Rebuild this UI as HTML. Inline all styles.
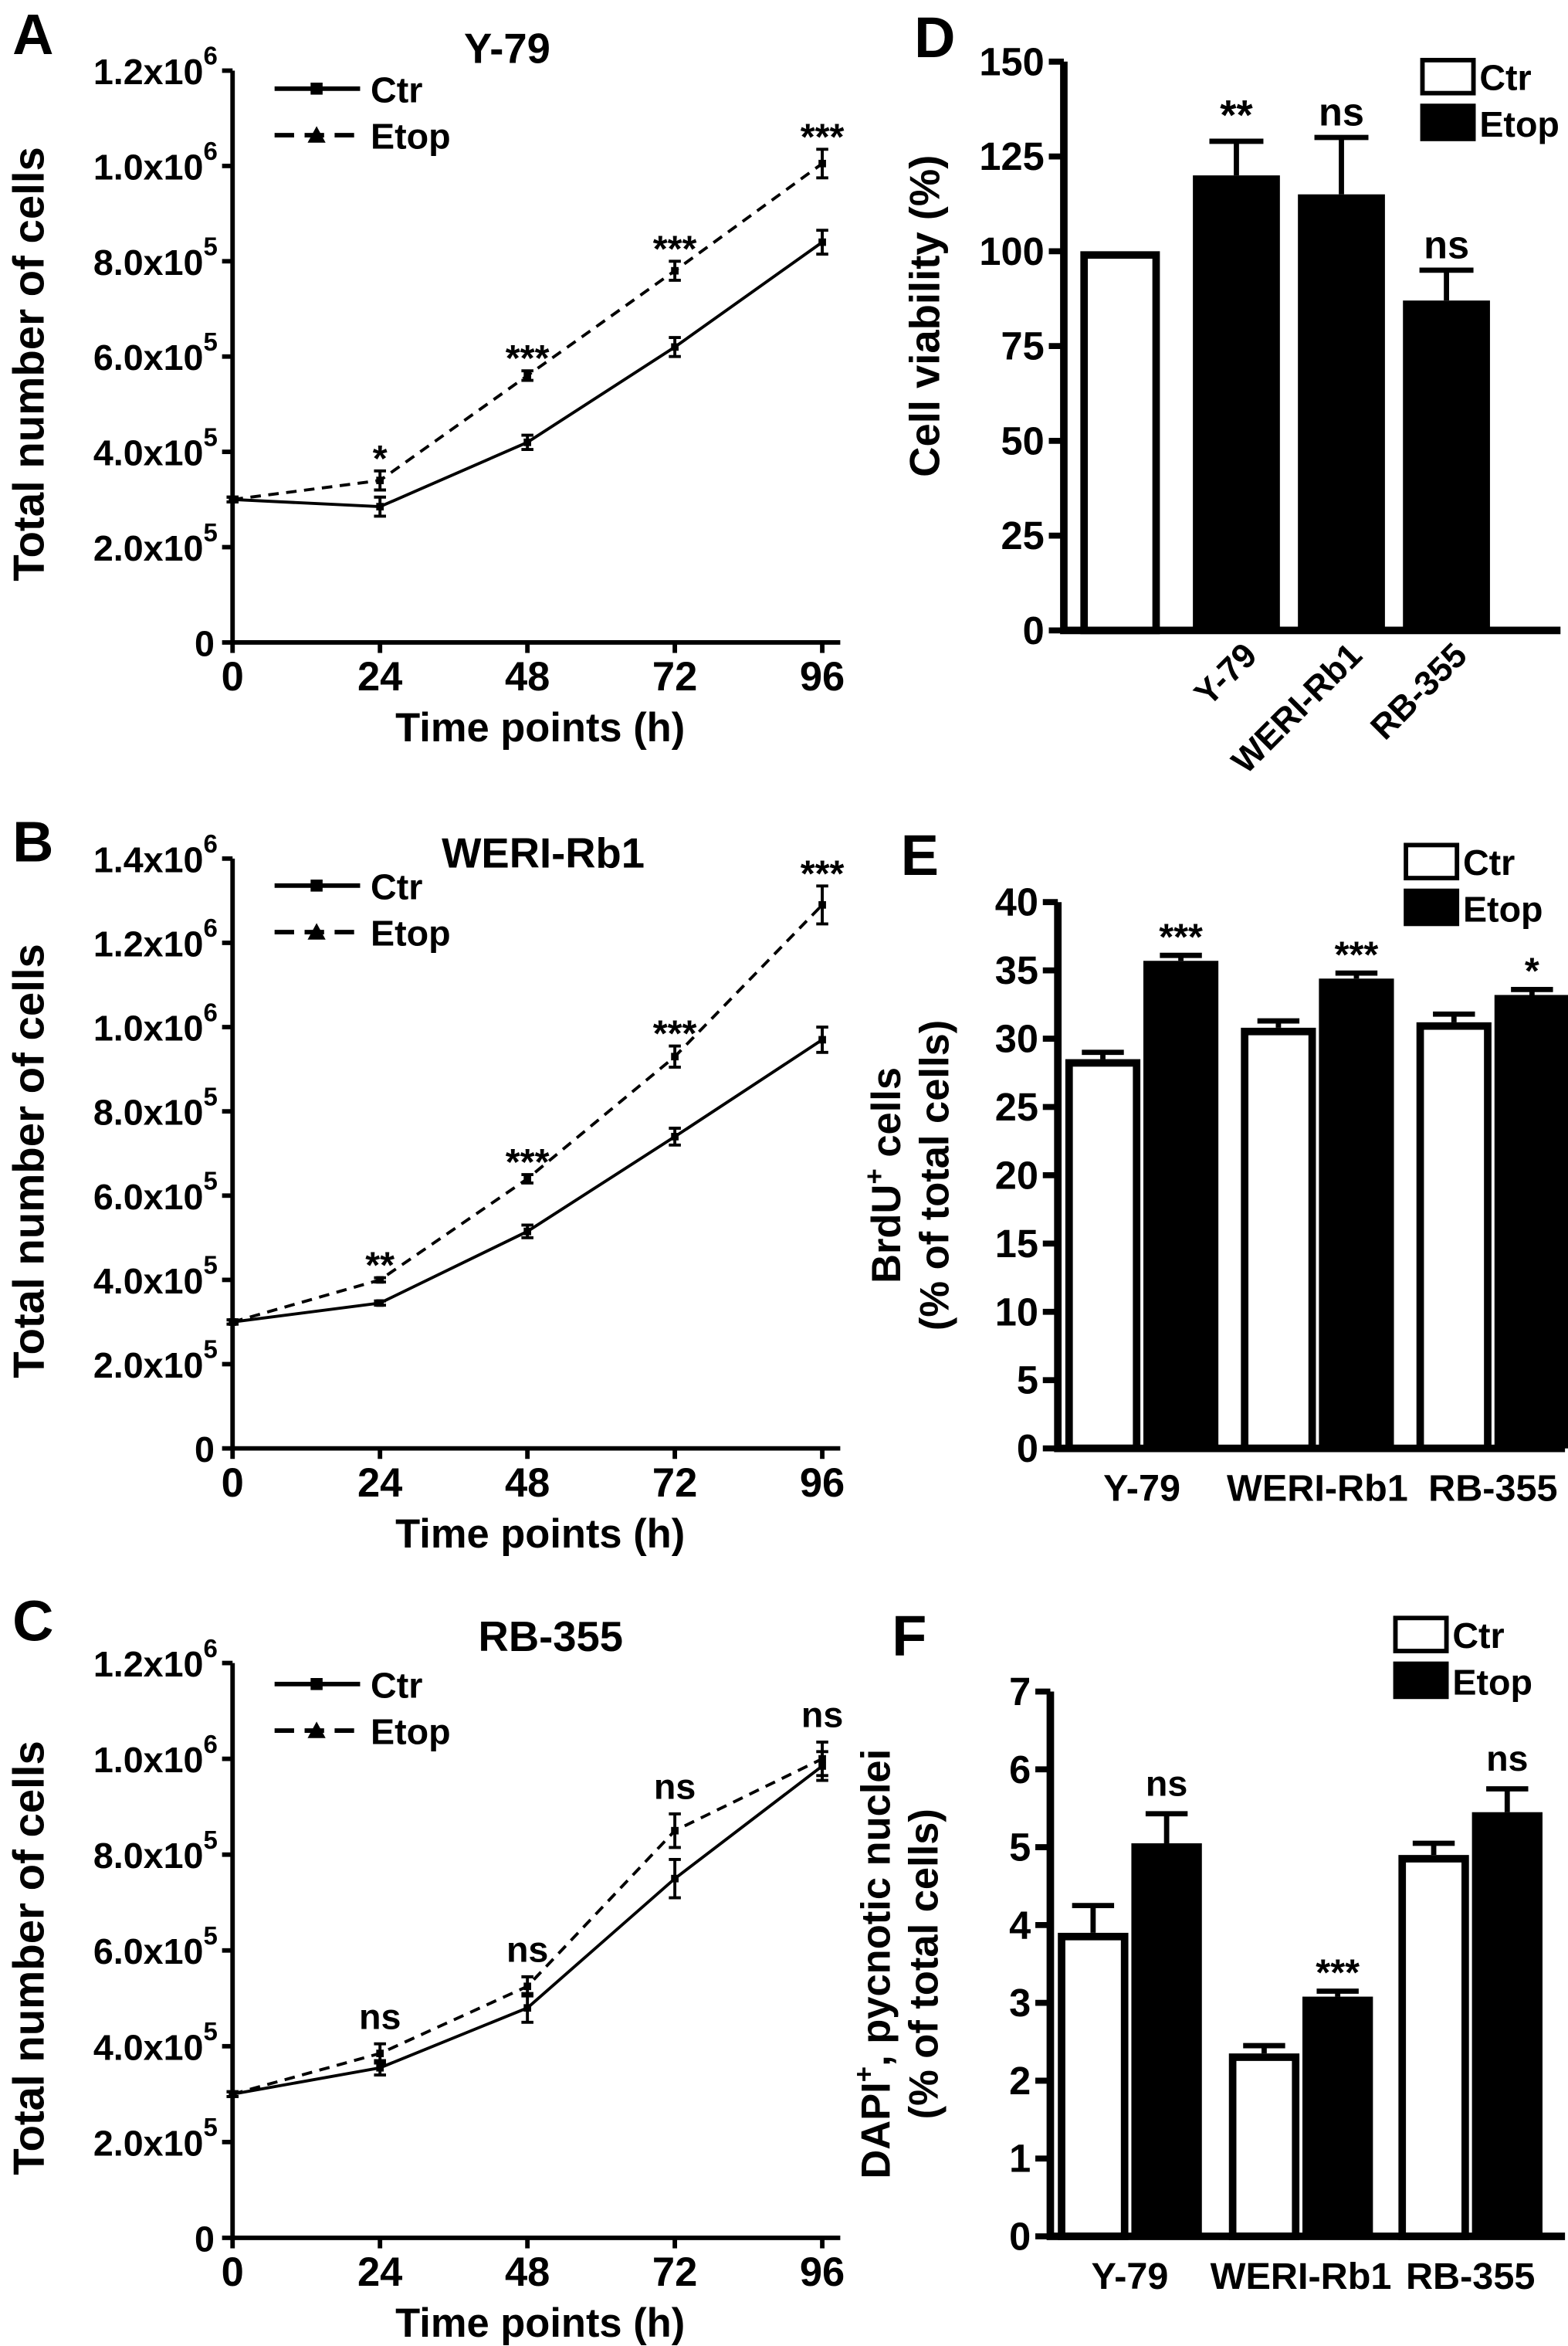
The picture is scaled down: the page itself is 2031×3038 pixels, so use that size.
<!DOCTYPE html>
<html><head><meta charset="utf-8"><style>
html,body{margin:0;padding:0;background:#fff;}
svg{display:block;font-family:"Liberation Sans",Arial,sans-serif;font-weight:bold;}
</style></head><body>
<svg id="fig" width="2031" height="3038" viewBox="0 0 1045 1563" xmlns="http://www.w3.org/2000/svg"></svg>
<script>
// ---- line chart data ----
const timePoints = [0, 24, 48, 72, 96];
const aCtr = [3.0, 2.85, 4.2, 6.2, 8.4];
const aCtrErr = [0.05, 0.2, 0.15, 0.2, 0.25];
const aEtop = [3.0, 3.4, 5.6, 7.8, 10.05];
const aEtopErr = [0.05, 0.2, 0.1, 0.2, 0.3];
const aSig = ["", "*", "***", "***", "***"];
const bCtr = [3.0, 3.45, 5.15, 7.4, 9.7];
const bCtrErr = [0.05, 0.05, 0.15, 0.2, 0.3];
const bEtop = [3.0, 4.0, 6.4, 9.3, 12.9];
const bEtopErr = [0.05, 0.05, 0.1, 0.25, 0.45];
const bSig = ["", "**", "***", "***", "***"];
const cCtr = [3.0, 3.55, 4.8, 7.5, 9.85];
const cCtrErr = [0.05, 0.15, 0.3, 0.4, 0.3];
const cEtop = [3.0, 3.85, 5.25, 8.5, 10.0];
const cEtopErr = [0.05, 0.2, 0.2, 0.35, 0.35];
const cSig = ["", "ns", "ns", "ns", "ns"];
const ticks12 = ["0", "2.0x10|5", "4.0x10|5", "6.0x10|5", "8.0x10|5", "1.0x10|6", "1.2x10|6"];
const ticks14 = ["0", "2.0x10|5", "4.0x10|5", "6.0x10|5", "8.0x10|5", "1.0x10|6", "1.2x10|6", "1.4x10|6"];
// ---- bar chart data ----
const dCats = ["Y-79", "WERI-Rb1", "RB-355"];
const dCtr = 100;
const dEtop = [120, 115, 87];
const dEtopErr = [9, 15, 8];
const dSig = ["**", "ns", "ns"];
const dTicks = [0, 25, 50, 75, 100, 125, 150];
const eCats = ["Y-79", "WERI-Rb1", "RB-355"];
const eCtr = [28.5, 30.8, 31.2];
const eCtrErr = [0.5, 0.5, 0.6];
const eEtop = [35.7, 34.4, 33.2];
const eEtopErr = [0.4, 0.4, 0.4];
const eSig = ["***", "***", "*"];
const eTicks = [0, 5, 10, 15, 20, 25, 30, 35, 40];
const fCtr = [3.9, 2.35, 4.9];
const fCtrErr = [0.35, 0.1, 0.15];
const fEtop = [5.05, 3.08, 5.45];
const fEtopErr = [0.38, 0.07, 0.3];
const fSig = ["ns", "***", "ns"];
const fTicks = [0, 1, 2, 3, 4, 5, 6, 7];

const NS = "http://www.w3.org/2000/svg";
const svg = document.getElementById("fig");
function el(tag, attrs, parent, text) {
  const e = document.createElementNS(NS, tag);
  for (const k in attrs) e.setAttribute(k, attrs[k]);
  if (text !== undefined) e.textContent = text;
  (parent || svg).appendChild(e);
  return e;
}
function txt(x, y, s, size, parent, anchor, name) {
  const t = el("text", {x: x, y: y, "font-size": size, "text-anchor": anchor || "middle"}, parent, s);
  
  
  return t;
}

function linePanel(o) {
  const g = el("g", {});
  
  
  const x0 = 155, x1 = 548, yb = o.yb, yt = o.yt, ymax = o.ymax;
  const xs = v => x0 + (x1 - x0) * v / 96;
  const ys = v => yb - (yb - yt) * v / ymax;
  const ax = el("path", {d: `M${x0},${yt} V${yb} H${x1 + 12}`, stroke: "#000", "stroke-width": 3, fill: "none"}, g);
  
  
  o.ticks.forEach((lab, i) => {
    const y = ys(i * 2);
    el("line", {x1: x0 - 7, x2: x0, y1: y, y2: y, stroke: "#000", "stroke-width": 3}, g);
    const parts = lab.split("|");
    const t = el("text", {x: x0 - 10, y: y + 9, "font-size": 24, "text-anchor": "end"}, g);
    
    
    t.appendChild(document.createTextNode(parts[0]));
    if (parts[1]) { el("tspan", {dy: -13, "font-size": 17}, t, parts[1]); }
    if (!parts[1]) t.setAttribute("x", x0 - 12);
  });
  timePoints.forEach(tp => {
    el("line", {x1: xs(tp), x2: xs(tp), y1: yb, y2: yb + 7, stroke: "#000", "stroke-width": 3}, g);
    txt(xs(tp), yb + 32, String(tp), 27, g, "middle", "x-tick-label");
  });
  txt(360, yb + 66, "Time points (h)", 27, g, "middle", "x-axis-title");
  const yl = txt(0, 0, "Total number of cells", 29, g, "middle", "y-axis-title");
  yl.setAttribute("transform", `translate(29,${(yt + yb) / 2 + 5}) rotate(-90)`);
  txt(o.tx, o.ty, o.title, 28, g, "middle", "chart-title");
  txt(22, o.ly, o.letter, 38, g, "middle", "panel-letter");
  [[o.ctr, o.ctrErr, "none", "ctr"], [o.etop, o.etopErr, "7,5", "etop"]].forEach(([vals, errs, dash, nm]) => {
    const d = vals.map((v, i) => (i ? "L" : "M") + xs(timePoints[i]) + "," + ys(v)).join(" ");
    const p = el("path", {d: d, stroke: "#000", "stroke-width": 2, fill: "none", "stroke-dasharray": dash}, g);
    
    
    vals.forEach((v, i) => {
      const x = xs(timePoints[i]), yhi = ys(v + errs[i]), ylo = ys(v - errs[i]);
      el("path", {d: `M${x},${yhi} V${ylo} M${x - 4},${yhi} H${x + 4} M${x - 4},${ylo} H${x + 4}`, stroke: "#000", "stroke-width": 2, fill: "none"}, g);
      const m = el("rect", {x: x - 2.5, y: ys(v) - 2.5, width: 5, height: 5, fill: "#000"}, g);
      
      
    });
  });
  o.sig.forEach((s, i) => {
    if (!s) return;
    const top = ys(Math.max(o.etop[i] + o.etopErr[i], o.ctr[i] + o.ctrErr[i]));
    txt(xs(timePoints[i]), top - 10 + (s === "ns" ? 0 : 10), s, s === "ns" ? 24 : 25, g, "middle", "significance-label");
  });
  const lg = el("g", {}, g);
  
  
  el("line", {x1: 183, x2: 240, y1: o.legY, y2: o.legY, stroke: "#000", "stroke-width": 3}, lg);
  el("rect", {x: 207, y: o.legY - 4, width: 8, height: 8, fill: "#000"}, lg);
  txt(247, o.legY + 9, "Ctr", 24, lg, "start", "legend-ctr");
  el("line", {x1: 183, x2: 240, y1: o.legY + 31, y2: o.legY + 31, stroke: "#000", "stroke-width": 3, "stroke-dasharray": "13,7"}, lg);
  el("path", {d: `M211,${o.legY + 25} L217,${o.legY + 36} L205,${o.legY + 36} Z`, fill: "#000"}, lg);
  txt(247, o.legY + 40, "Etop", 24, lg, "start", "legend-etop");
}

linePanel({name: "panel-a-y79", yb: 428, yt: 47, ymax: 12, ticks: ticks12, ctr: aCtr, ctrErr: aCtrErr, etop: aEtop, etopErr: aEtopErr, sig: aSig, title: "Y-79", tx: 338, ty: 42, letter: "A", ly: 36, legY: 59});
linePanel({name: "panel-b-weri", yb: 965, yt: 572, ymax: 14, ticks: ticks14, ctr: bCtr, ctrErr: bCtrErr, etop: bEtop, etopErr: bEtopErr, sig: bSig, title: "WERI-Rb1", tx: 362, ty: 578, letter: "B", ly: 574, legY: 590});
linePanel({name: "panel-c-rb355", yb: 1491, yt: 1108, ymax: 12, ticks: ticks12, ctr: cCtr, ctrErr: cCtrErr, etop: cEtop, etopErr: cEtopErr, sig: cSig, title: "RB-355", tx: 367, ty: 1100, letter: "C", ly: 1093, legY: 1122});

function barLegend(g, x, y) {
  const lg = el("g", {}, g);
  
  
  el("rect", {x: x, y: y, width: 34, height: 22, fill: "#fff", stroke: "#000", "stroke-width": 3}, lg);
  txt(x + 38, y + 20, "Ctr", 24, lg, "start", "legend-ctr");
  el("rect", {x: x - 1.5, y: y + 29, width: 37, height: 25, fill: "#000"}, lg);
  txt(x + 38, y + 51, "Etop", 24, lg, "start", "legend-etop");
}
function yAxis(g, xa, yb, yt, ticks, ymax) {
  const ys = v => yb - (yb - yt) * v / ymax;
  ticks.forEach(t => {
    el("line", {x1: xa - 10, x2: xa, y1: ys(t), y2: ys(t), stroke: "#000", "stroke-width": 4}, g);
    txt(xa - 13, ys(t) + 9, String(t), 26, g, "end", "y-tick-label");
  });
  return ys;
}
function bar(g, x, w, y0, y1, black, name) {
  const r = black ? el("rect", {x: x, y: y1, width: w, height: y0 - y1, fill: "#000"}, g)
    : el("rect", {x: x + 2.5, y: y1 + 2.5, width: w - 5, height: y0 - y1 - 2.5, fill: "#fff", stroke: "#000", "stroke-width": 5}, g);
  
  
}
function errUp(g, x, y1, y2, hw) {
  el("path", {d: `M${x},${y1} V${y2} M${x - hw},${y2} H${x + hw}`, stroke: "#000", "stroke-width": 3.5, fill: "none"}, g);
}

(function () {
  const g = el("g", {});
  
  
  const xa = 709, yb = 420, yt = 41;
  const ys = yAxis(g, xa, yb, yt, dTicks, 150);
  bar(g, 720, 53, yb, ys(dCtr), false, "bar-ctr");
  const xs = [795, 865, 935];
  dEtop.forEach((v, i) => {
    errUp(g, xs[i] + 29, ys(v), ys(v + dEtopErr[i]), 18);
    bar(g, xs[i], 58, yb, ys(v), true, "bar-etop-" + i);
    txt(xs[i] + 29, ys(v + dEtopErr[i]) - 8, dSig[i], dSig[i] === "ns" ? 26 : 28, g, "middle", "significance-label");
    const t = txt(0, 0, dCats[i], 23, g, "end", "x-tick-label");
    t.setAttribute("transform", `translate(${xs[i] + 44},${yb + 18}) rotate(-45)`);
  });
  el("path", {d: `M${xa},${yt} V${yb} H1040`, stroke: "#000", "stroke-width": 5, fill: "none"}, g);
  const yl = txt(0, 0, "Cell viability (%)", 28, g, "middle", "y-axis-title");
  yl.setAttribute("transform", `translate(626,${(yt + yb) / 2 - 20}) rotate(-90)`);
  txt(623, 38, "D", 38, g, "middle", "panel-letter");
  barLegend(g, 948, 40);
})();

function groupedPanel(o) {
  const g = el("g", {});
  
  
  const ys = yAxis(g, o.xa, o.yb, o.yt, o.ticks, o.ymax);
  o.ctr.forEach((v, i) => {
    const xc = o.gx[i];
    errUp(g, xc + o.bw / 2, ys(v), ys(v + o.ctrErr[i]), 14);
    bar(g, xc, o.bw, o.yb, ys(v), false, "bar-ctr-" + i);
    errUp(g, xc + o.bw + o.bw / 2 + 2, ys(o.etop[i]), ys(o.etop[i] + o.etopErr[i]), 14);
    bar(g, xc + o.bw + 2, o.bw, o.yb, ys(o.etop[i]), true, "bar-etop-" + i);
    const s = o.sig[i];
    txt(xc + o.bw * 1.5 + 2, ys(o.etop[i] + o.etopErr[i]) - (s === "ns" ? 12 : 4), s, s === "ns" ? 24 : 25, g, "middle", "significance-label");
    txt(xc + o.bw + 1, o.yb + 35, o.cats[i], 25, g, "middle", "x-tick-label");
  });
  el("path", {d: `M${o.xa},${o.yt} V${o.yb} H1043`, stroke: "#000", "stroke-width": 5, fill: "none"}, g);
  const cy = (o.yt + o.yb) / 2;
  const l1 = el("text", {"font-size": 27, "text-anchor": "middle", transform: `translate(${o.lx},${cy}) rotate(-90)`}, g);
  
  
  l1.appendChild(document.createTextNode(o.l1a));
  el("tspan", {dy: -11, "font-size": 18}, l1, o.l1sup);
  el("tspan", {dy: 11}, l1, o.l1b);
  const l2 = txt(0, 0, "(% of total cells)", 27, g, "middle", "y-axis-subtitle");
  l2.setAttribute("transform", `translate(${o.lx + 32},${cy}) rotate(-90)`);
  txt(o.letX, o.letY, o.letter, 38, g, "middle", "panel-letter");
  barLegend(g, o.legX, o.legY);
}
groupedPanel({name: "panel-e-brdu", xa: 705, yb: 965, yt: 601, ymax: 40, ticks: eTicks, cats: eCats, ctr: eCtr, ctrErr: eCtrErr, etop: eEtop, etopErr: eEtopErr, sig: eSig, gx: [710, 827, 944], bw: 50, lx: 600, l1a: "BrdU", l1sup: "+", l1b: " cells", letter: "E", letX: 613, letY: 583, legX: 937, legY: 563});
groupedPanel({name: "panel-f-dapi", xa: 700, yb: 1490, yt: 1127, ymax: 7, ticks: fTicks, cats: eCats, ctr: fCtr, ctrErr: fCtrErr, etop: fEtop, etopErr: fEtopErr, sig: fSig, gx: [705, 819, 932], bw: 47, lx: 593, l1a: "DAPI", l1sup: "+", l1b: ", pycnotic nuclei", letter: "F", letX: 606, letY: 1103, legX: 930, legY: 1078});
</script>
</body></html>
